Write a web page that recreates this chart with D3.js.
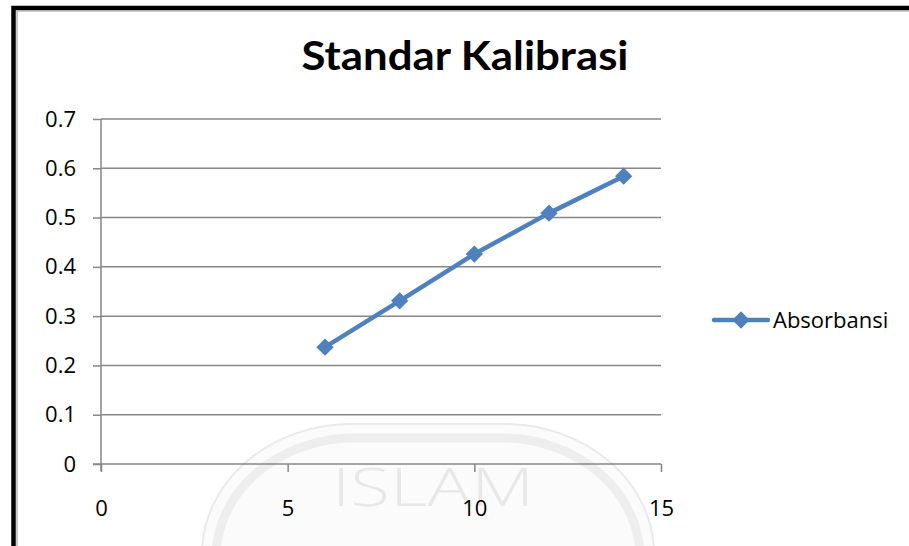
<!DOCTYPE html>
<html>
<head>
<meta charset="utf-8">
<script src="https://cdn.jsdelivr.net/npm/d3@7"></script>
<style>
  html, body { margin: 0; padding: 0; background: #fff; }
  svg { display: block; }
</style>
</head>
<body>
<svg id="chart" width="909" height="546"></svg>
<script>
// Data
const concentrations = [6, 8, 10, 12, 14];
const absorbance = [0.237, 0.331, 0.426, 0.509, 0.584];
const seriesName = "Absorbansi";
const chartTitle = "Standar Kalibrasi";
const xTicks = [0, 5, 10, 15];
const yTicks = [0, 0.1, 0.2, 0.3, 0.4, 0.5, 0.6, 0.7];
const watermarkText = "ISLAM";

const svg = d3.select("#chart");
const W = 909, H = 546;
const plot = { left: 101, right: 661, top: 119, bottom: 464 };
const lineColor = "#4F81BD";
const gridColor = "#878787";
const font = "'Open Sans', 'Noto Sans', sans-serif";

svg.append("rect").attr("width", W).attr("height", H).attr("fill", "#fff");

// faint watermark (background logo)
const wm = svg.append("g");
wm.append("rect").attr("x", 202).attr("y", 424).attr("width", 452).attr("height", 260)
  .attr("rx", 150).attr("fill", "#fbfbfb").attr("stroke", "#eaeaea").attr("stroke-width", 2);
wm.append("rect").attr("x", 216).attr("y", 438).attr("width", 424).attr("height", 240)
  .attr("rx", 138).attr("fill", "none").attr("stroke", "#eeeeee").attr("stroke-width", 9);
wm.append("text").attr("x", 332).attr("y", 506)
  .attr("font-family", "'Open Sans', sans-serif").attr("font-weight", 300).attr("font-size", 54)
  .attr("textLength", 202).attr("lengthAdjust", "spacingAndGlyphs")
  .attr("fill", "#e8e8e8").text(watermarkText);

// outer border
svg.append("path")
  .attr("d", `M13.5,${H + 5} L13.5,8 L${W + 5},8`)
  .attr("fill", "none").attr("stroke", "#000").attr("stroke-width", 4.5);
svg.append("path")
  .attr("d", `M17,${H + 5} L17,11 L${W + 5},11`)
  .attr("fill", "none").attr("stroke", "#999").attr("stroke-width", 1);

const x = d3.scaleLinear().domain([0, 15]).range([plot.left, plot.right]);
const y = d3.scaleLinear().domain([0, 0.7]).range([plot.bottom, plot.top]);

// gridlines
svg.append("g").selectAll("line").data(yTicks.filter(d => d > 0)).join("line")
  .attr("x1", plot.left).attr("x2", plot.right)
  .attr("y1", d => y(d)).attr("y2", d => y(d))
  .attr("stroke", gridColor).attr("stroke-width", 1.5);

// y axis
const yAxis = svg.append("g").attr("transform", `translate(${plot.left},0)`)
  .call(d3.axisLeft(y).tickValues(yTicks).tickFormat(d => d === 0 ? "0" : d3.format(".1f")(d))
    .tickSize(8).tickPadding(17));
yAxis.select(".domain").attr("stroke", gridColor).attr("stroke-width", 1.5)
  .attr("d", `M0,${plot.top}V${plot.bottom + 7}`);
yAxis.selectAll(".tick line").attr("stroke", gridColor).attr("stroke-width", 1.5);
yAxis.selectAll("text").attr("font-family", font).attr("font-size", 22).attr("fill", "#000");

// x axis
const xAxis = svg.append("g").attr("transform", `translate(0,${plot.bottom})`)
  .call(d3.axisBottom(x).tickValues(xTicks).tickFormat(d3.format("d")).tickSize(8).tickPadding(28));
xAxis.select(".domain").attr("stroke", gridColor).attr("stroke-width", 1.5)
  .attr("d", `M${plot.left - 8},0H${plot.right}`);
xAxis.selectAll(".tick line").attr("stroke", gridColor).attr("stroke-width", 1.5);
xAxis.selectAll("text").attr("font-family", font).attr("font-size", 22).attr("fill", "#000");

// line
const pts = concentrations.map((c, i) => ({ x: c, y: absorbance[i] }));
svg.append("path").datum(pts)
  .attr("d", d3.line().x(d => x(d.x)).y(d => y(d.y)))
  .attr("fill", "none").attr("stroke", lineColor).attr("stroke-width", 4.5)
  .attr("stroke-linejoin", "round").attr("stroke-linecap", "round");

const marker = d3.symbol().type(d3.symbolSquare).size(150);
svg.append("g").selectAll("path").data(pts).join("path")
  .attr("transform", d => `translate(${x(d.x)},${y(d.y)}) rotate(45)`)
  .attr("d", marker)
  .attr("fill", lineColor);

// title
svg.append("text").attr("x", 465).attr("y", 70).attr("text-anchor", "middle")
  .attr("font-family", "Lato, 'Open Sans', sans-serif").attr("font-weight", "bold").attr("font-size", 40)
  .attr("textLength", 327).attr("lengthAdjust", "spacingAndGlyphs")
  .attr("fill", "#000").text(chartTitle);

// legend
const lg = svg.append("g").attr("transform", "translate(714,320)");
lg.append("line").attr("x1", 0).attr("x2", 54).attr("y1", 0).attr("y2", 0)
  .attr("stroke", lineColor).attr("stroke-width", 4.5).attr("stroke-linecap", "round");
lg.append("path").attr("transform", "translate(27,0) rotate(45)")
  .attr("d", marker).attr("fill", lineColor);
lg.append("text").attr("x", 59).attr("y", 8).attr("font-family", font).attr("font-size", 22)
  .attr("fill", "#000").text(seriesName);
</script>
</body>
</html>
